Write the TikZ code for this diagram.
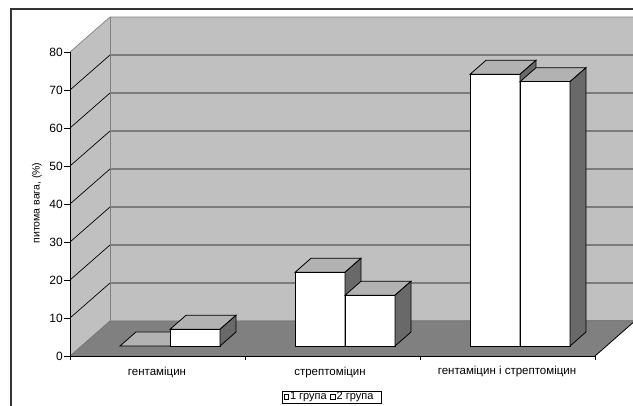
\documentclass[tikz,border=0pt]{standalone}
\usepackage{fontspec}
\setmainfont{Liberation Sans}
\definecolor{wallc}{HTML}{C0C0C0}
\definecolor{floorc}{HTML}{808080}
\definecolor{topc}{HTML}{B2B2B2}
\definecolor{sidec}{HTML}{696969}
\definecolor{framec}{HTML}{333333}
\newcommand{\mybar}[2]{%
  \filldraw[barline,fill=topc] (#1,346-#2) -- (#1+50,346-#2) -- (#1+66,332-#2) -- (#1+16,332-#2) -- cycle;
  \ifdim #2pt>0pt
  \filldraw[barline,fill=white] (#1,346) rectangle (#1+50,346-#2);
  \filldraw[barline,fill=sidec] (#1+50,346) -- (#1+66,332) -- (#1+66,332-#2) -- (#1+50,346-#2) -- cycle;
  \fi}
\begin{document}
\begin{tikzpicture}[x=1pt,y=-1pt,line join=miter,
  barline/.style={draw=black,line width=0.8pt},
  grid/.style={draw=black,line width=0.7pt},
  wallborder/.style={draw=floorc,line width=0.7pt},
  ticklab/.style={font=\fontsize{12}{12}\selectfont,anchor=east,inner sep=0pt},
  catlab/.style={font=\fontsize{11.5}{12}\selectfont,inner sep=0pt},
  leglab/.style={font=\fontsize{11}{11}\selectfont,inner sep=0pt,anchor=west}]
\useasboundingbox (0,0) rectangle (633,406);
\fill[white] (0,0) rectangle (633,406);
% outer frame
\draw[framec,line width=1.8pt] (11,407) -- (11,9) -- (634,9);
% walls
\fill[wallc] (110,17) rectangle (636,321);
\fill[wallc] (70,356) -- (70,52) -- (110,17) -- (110,321) -- cycle;
\foreach \k in {1,...,7} {
  \draw[grid] (70,356-38*\k) -- (110,321-38*\k) -- (636,321-38*\k);
}
\draw[wallborder] (70,52) -- (110,17) -- (636,17);
\draw[wallborder] (110,17) -- (110,321);
% floor
\fill[floorc] (70,356) -- (595,356) -- (636,320) -- (110,321) -- cycle;
\draw[wallborder,draw=black!55] (70,356) -- (110,321) -- (636,321);
\draw[black,line width=0.8pt] (595,356) -- (636,320);
% axes
\draw[black,line width=0.8pt] (70,52) -- (70,360);
\draw[black,line width=0.8pt] (70,356) -- (595,356);
\foreach \x in {245,420,595} { \draw[black,line width=0.8pt] (\x,356) -- (\x,360); }
\foreach \v [count=\i from 0] in {0,10,...,80} {
  \draw[black,line width=0.8pt] (64,356-38*\i) -- (70,356-38*\i);
  \node[ticklab] (yl\i) at (63,356-38*\i) {\v};
}
% bars
\mybar{120}{0}
\mybar{170}{16.7}
\mybar{295}{73.7}
\mybar{345}{50.7}
\mybar{470}{271.7}
\mybar{520}{264.3}
% labels
\node[font=\fontsize{10.5}{10.5}\selectfont,rotate=90,inner sep=0pt] (ytitle) at (37,203) {питома вага, (\%)};
\node[catlab] (c1) at (157,372) {гентаміцин};
\node[catlab] (c2) at (330,372.5) {стрептоміцин};
\node[catlab] (c3) at (507,372) {гентаміцин і стрептоміцин};
% legend
\draw[black,line width=0.7pt] (282,391) rectangle (381,403.5);
\draw[black,line width=0.6pt,fill=white] (283.8,394.8) rectangle (288.3,399.3);
\node[leglab] (l1) at (289.8,397.3) {1 група};
\draw[black,line width=0.6pt,fill=white] (330.5,394.8) rectangle (335,399.3);
\node[leglab] (l2) at (336.5,397.3) {2 група};
\end{tikzpicture}
\end{document}
